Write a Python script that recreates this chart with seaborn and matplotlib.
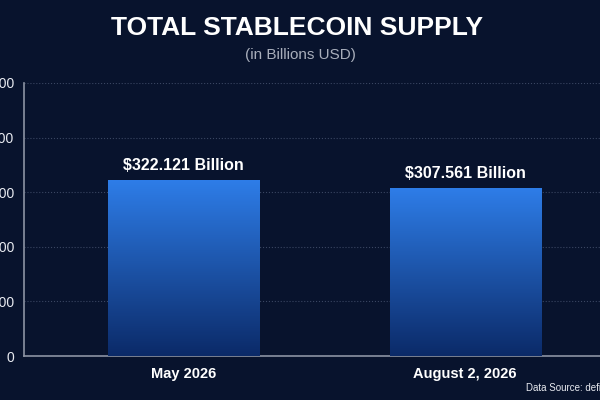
import matplotlib
matplotlib.use('Agg')
import matplotlib.pyplot as plt
import seaborn as sns
import numpy as np
import pandas as pd
from matplotlib.colors import LinearSegmentedColormap

# Data
periods = ['May 2026', 'August 2, 2026']
supply = [322.121, 307.561]
value_labels = ['$322.121 Billion', '$307.561 Billion']
y_ticks = [0, 100, 200, 300, 400, 500]

bg = '#08132d'

sns.set_theme(style='dark')
plt.rcParams['font.family'] = ['Liberation Sans', 'DejaVu Sans']

df = pd.DataFrame({'period': periods, 'supply': supply})

fig = plt.figure(figsize=(6, 4), dpi=100, facecolor=bg)
ax = fig.add_axes([24 / 600, 44 / 400, 576 / 600, 273 / 400])
ax.set_facecolor(bg)

sns.barplot(data=df, x='period', y='supply', color='#2d7be5', width=0.537, ax=ax, zorder=3)

# gradient fill inside each bar
cmap = LinearSegmentedColormap.from_list('bar', ['#0b2a68', '#2e7de8'])
grad = np.linspace(0, 1, 256).reshape(-1, 1)
for p in ax.patches:
    x0, y0 = p.get_x(), p.get_y()
    w, h = p.get_width(), p.get_height()
    p.set_facecolor('none')
    p.set_edgecolor('none')
    im = ax.imshow(grad, cmap=cmap, origin='lower', aspect='auto',
                   extent=[x0, x0 + w, y0, y0 + h], zorder=3)
    im.set_clip_path(p)

for i, (v, lab) in enumerate(zip(supply, value_labels)):
    ax.text(i, v + 13, lab, ha='center', va='bottom', color='white',
            fontsize=11.5, fontweight='bold', zorder=4)

ax.set_xlim(-0.568, 1.479)
ax.set_ylim(0, 500)
ax.set_yticks(y_ticks)
ax.set_yticklabels([str(t) for t in y_ticks])
ax.set_xlabel('')
ax.set_ylabel('')

ax.tick_params(axis='y', colors='#e8eaf0', labelsize=10, length=0, pad=7)
ax.tick_params(axis='x', colors='white', labelsize=10.5, length=0, pad=8)
for t in ax.get_xticklabels():
    t.set_fontweight('bold')

ax.grid(axis='y', color='#3a4662', linestyle=':', linewidth=0.8, zorder=0)
ax.grid(axis='x', visible=False)

for s in ['top', 'right']:
    ax.spines[s].set_visible(False)
for s in ['left', 'bottom']:
    ax.spines[s].set_visible(True)
    ax.spines[s].set_color('#8c93a3')
    ax.spines[s].set_linewidth(1.2)

fig.text(0.495, 1 - 28 / 400, 'TOTAL STABLECOIN SUPPLY', ha='center', va='center',
         color='white', fontsize=19, fontweight='bold')
fig.text(0.5, 1 - 55 / 400, '(in Billions USD)', ha='center', va='center',
         color='#a8aebb', fontsize=11)
fig.text(526 / 600, 1 - 388 / 400, 'Data Source: defillama.com', ha='left', va='center',
         color='#e8eaf0', fontsize=7)

fig.savefig('out.png', dpi=100, facecolor=bg)
